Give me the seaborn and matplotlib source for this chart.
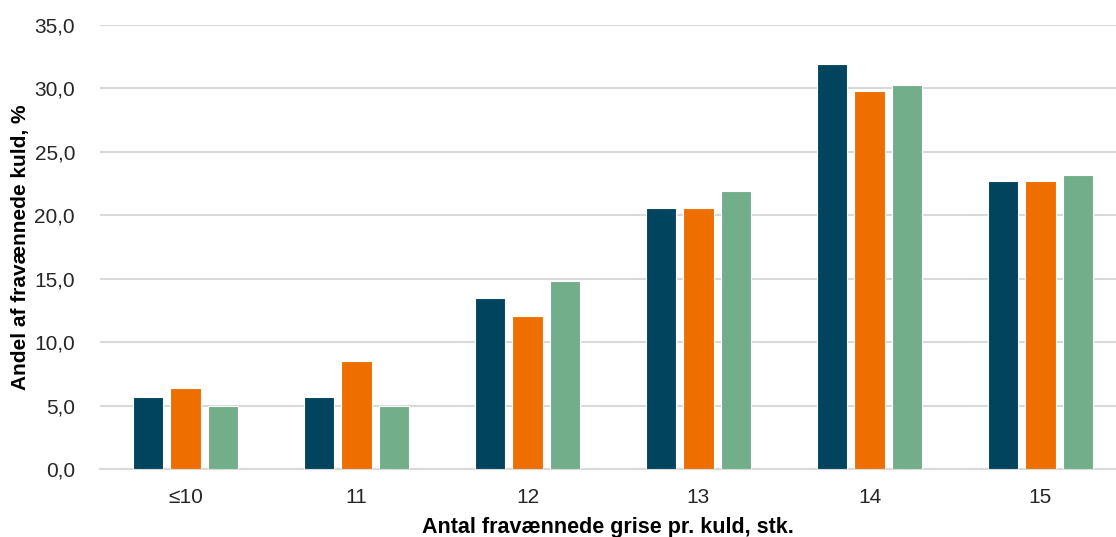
import matplotlib
matplotlib.use("Agg")
import matplotlib.pyplot as plt
import seaborn as sns
import pandas as pd

categories = ["≤10", "11", "12", "13", "14", "15"]
series_names = ["Serie 1", "Serie 2", "Serie 3"]
serie1 = [5.7, 5.7, 13.5, 20.6, 31.9, 22.7]
serie2 = [6.4, 8.5, 12.1, 20.6, 29.8, 22.7]
serie3 = [5.0, 5.0, 14.8, 21.9, 30.3, 23.2]
yticks = [0, 5, 10, 15, 20, 25, 30, 35]
colors = ["#00445E", "#EE6F00", "#72AE8A"]

rows = []
for name, vals in zip(series_names, [serie1, serie2, serie3]):
    for c, v in zip(categories, vals):
        rows.append({"cat": c, "serie": name, "val": v})
df = pd.DataFrame(rows)

sns.set_theme(style="white")
plt.rcParams['font.family'] = ['Liberation Sans', 'DejaVu Sans']

fig = plt.figure(figsize=(11.16, 5.37), dpi=100)
ax = fig.add_axes([100/1116, 1 - 469/537, 1 - 100/1116, (469 - 25)/537])

sns.barplot(data=df, x="cat", y="val", hue="serie", order=categories,
            hue_order=series_names, palette=colors, saturation=1,
            width=0.66, gap=0.2,
            edgecolor="white", linewidth=0.8, legend=False, ax=ax, zorder=3)

ax.set_ylim(0, 35)
ax.set_xlim(-0.5, 5.5 - 10/171)
ax.set_yticks(yticks)
ax.set_yticklabels([f"{t:.1f}".replace(".", ",") for t in yticks], fontsize=15, color="#262626")
ax.tick_params(axis="x", labelsize=15, colors="#262626", length=0, pad=14)
ax.tick_params(axis="y", length=0, pad=18)
ax.yaxis.grid(True, color="#D9D9D9", linewidth=1.5, zorder=0)
ax.xaxis.grid(False)
for s in ["top", "right", "left"]:
    ax.spines[s].set_visible(False)
ax.spines["bottom"].set_color("#D9D9D9")
ax.spines["bottom"].set_linewidth(1.5)

ax.set_xlabel("Antal fravænnede grise pr. kuld, stk.", fontsize=15.5, fontweight="bold", color="black", labelpad=7)
ax.set_ylabel("Andel af fravænnede kuld, %", fontsize=15, fontweight="bold", color="black", labelpad=3)

fig.savefig("out.png", dpi=100)
